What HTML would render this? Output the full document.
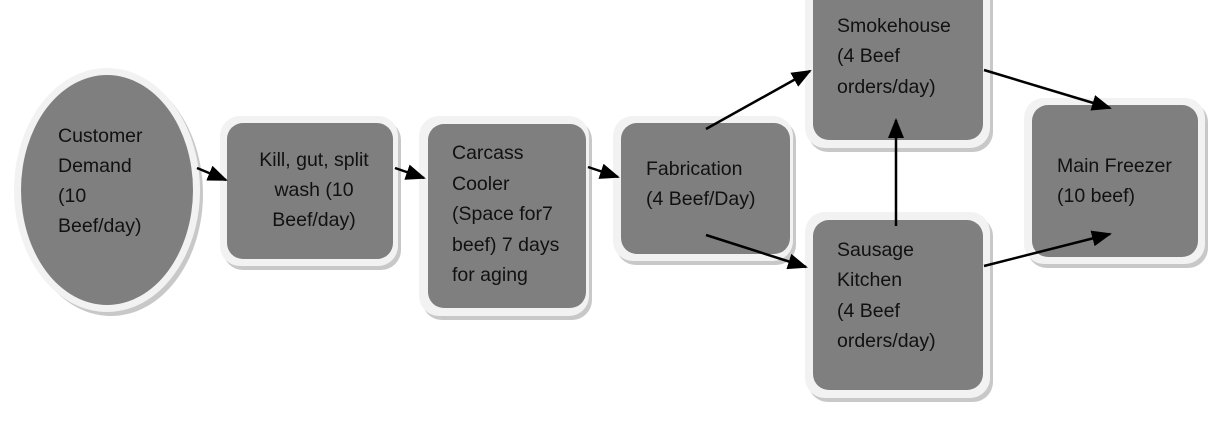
<!DOCTYPE html>
<html><head><style>
html,body{margin:0;padding:0;background:#fff;width:1210px;height:423px;overflow:hidden}
svg text{font-family:"Liberation Sans",sans-serif;font-size:19.5px;fill:#111}
</style></head><body>
<svg width="1210" height="423" viewBox="0 0 1210 423" xmlns="http://www.w3.org/2000/svg">
<defs>
<marker id="b" markerWidth="20" markerHeight="16" refX="18" refY="8" orient="auto" markerUnits="userSpaceOnUse">
<path d="M0,0 L20,8 L0,16 z" fill="#000"/></marker>
</defs>
<g fill="#c8c8c8">
<ellipse cx="111" cy="194" rx="92" ry="122"/>
<rect x="223" y="120" width="178" height="150" rx="20"/>
<rect x="422" y="120" width="170" height="200" rx="20"/>
<rect x="616" y="120" width="180" height="145" rx="20"/>
<rect x="808" y="-20" width="185" height="172" rx="20"/>
<rect x="808" y="216" width="185" height="186" rx="20"/>
<rect x="1027" y="102" width="181" height="166" rx="20"/>
</g>
<g fill="#f2f2f2">
<ellipse cx="107" cy="190" rx="93" ry="122"/>
<rect x="220" y="116" width="178" height="150" rx="20"/>
<rect x="419" y="116" width="170" height="200" rx="20"/>
<rect x="613" y="116" width="180" height="145" rx="20"/>
<rect x="805" y="-24" width="185" height="172" rx="20"/>
<rect x="805" y="212" width="185" height="186" rx="20"/>
<rect x="1024" y="98" width="181" height="166" rx="20"/>
</g>
<g fill="#7f7f7f">
<ellipse cx="107" cy="190" rx="86" ry="115"/>
<rect x="227" y="123" width="166" height="136" rx="16"/>
<rect x="428" y="124" width="158" height="184" rx="16"/>
<rect x="621" y="123" width="169" height="131" rx="16"/>
<rect x="813" y="-16" width="170" height="156" rx="16"/>
<rect x="813" y="220" width="170" height="170" rx="16"/>
<rect x="1032" y="105" width="166" height="152" rx="16"/>
</g>
<g stroke="#000" stroke-width="2.5" fill="none">
<line x1="197" y1="168" x2="226" y2="180" marker-end="url(#b)"/>
<line x1="395" y1="168" x2="424" y2="178" marker-end="url(#b)"/>
<line x1="588" y1="167" x2="618" y2="177" marker-end="url(#b)"/>
<line x1="706" y1="129" x2="810" y2="71" marker-end="url(#b)"/>
<line x1="706" y1="235" x2="806" y2="267" marker-end="url(#b)"/>
<line x1="896" y1="226" x2="896" y2="120" marker-end="url(#b)"/>
<line x1="984" y1="70" x2="1110" y2="108" marker-end="url(#b)"/>
<line x1="984" y1="266" x2="1110" y2="234" marker-end="url(#b)"/>
</g>
<text x="58" y="142">Customer</text>
<text x="58" y="172">Demand</text>
<text x="58" y="202">(10</text>
<text x="58" y="232">Beef/day)</text>
<g text-anchor="middle">
<text x="314" y="166">Kill, gut, split</text>
<text x="314" y="196">wash (10</text>
<text x="314" y="226">Beef/day)</text>
</g>
<text x="452" y="159">Carcass</text>
<text x="452" y="190">Cooler</text>
<text x="452" y="220">(Space for7</text>
<text x="452" y="251">beef) 7 days</text>
<text x="452" y="281">for aging</text>
<text x="646" y="175">Fabrication</text>
<text x="646" y="205">(4 Beef/Day)</text>
<text x="837" y="32">Smokehouse</text>
<text x="837" y="62">(4 Beef</text>
<text x="837" y="93">orders/day)</text>
<text x="837" y="256">Sausage</text>
<text x="837" y="286">Kitchen</text>
<text x="837" y="317">(4 Beef</text>
<text x="837" y="347">orders/day)</text>
<text x="1057" y="172">Main Freezer</text>
<text x="1057" y="202">(10 beef)</text>
</svg>
</body></html>
